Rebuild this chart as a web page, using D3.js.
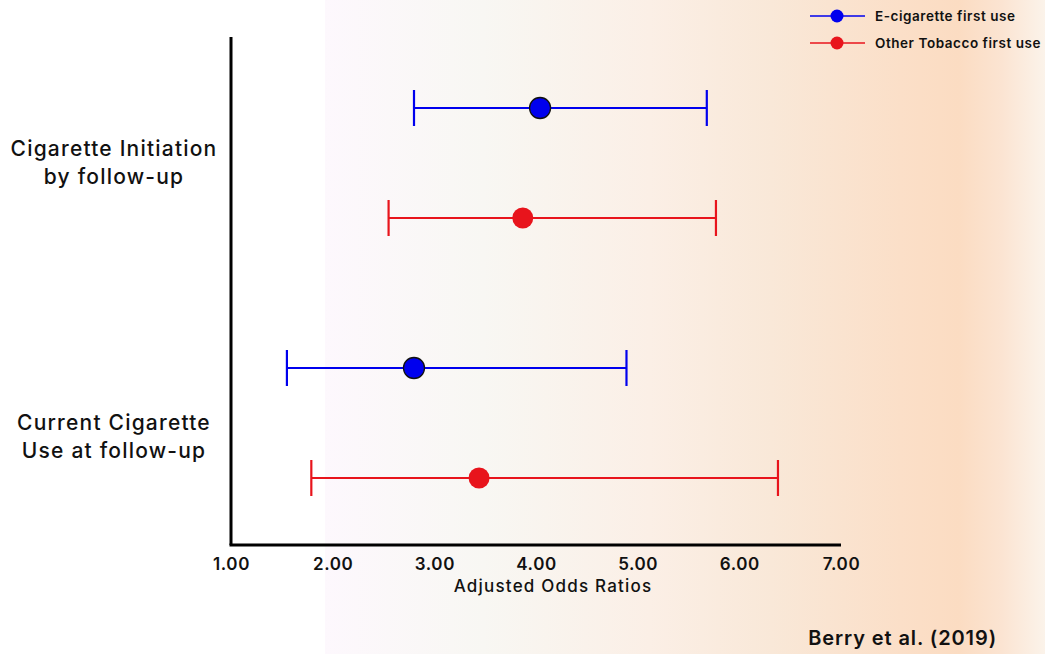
<!DOCTYPE html>
<html><head><meta charset="utf-8">
<script src="https://cdn.jsdelivr.net/npm/d3@7"></script>
<style>body{margin:0;background:#fff;}svg{display:block;font-family:Inter,"Open Sans",sans-serif;}</style>
</head><body>
<svg id="c" width="1045" height="654"></svg>
<script>
const groups = ["Cigarette Initiation|by follow-up", "Current Cigarette|Use at follow-up"];
const series = ["E-cigarette first use", "Other Tobacco first use"];
const colors = ["#0000ee", "#e8141c"];
const estimates = [[4.04, 3.87], [2.80, 3.44]];
const lower = [[2.80, 2.55], [1.55, 1.79]];
const upper = [[5.68, 5.77], [4.89, 6.38]];
const xTicks = [1, 2, 3, 4, 5, 6, 7];
const xTitle = "Adjusted Odds Ratios";
const source = "Berry et al. (2019)";

const svg = d3.select("#c");
const W = 1045, H = 654;
const m = {l: 231, r: 841, t: 37, b: 545};

// background gradient
const defs = svg.append("defs");
const g = defs.append("linearGradient").attr("id","bg").attr("x1","0").attr("x2","1").attr("y1","0").attr("y2","0");
[[0,"#fdf8fd"],[0.22,"#f8f7f3"],[0.45,"#fbefe6"],[0.62,"#f9e8d8"],[0.8,"#fbdfc8"],[0.88,"#fbdcc2"],[0.94,"#fbe4d2"],[1,"#fbf3ea"]]
  .forEach(([o,c]) => g.append("stop").attr("offset", o).attr("stop-color", c));
svg.append("rect").attr("x", 325).attr("y", 0).attr("width", W-325).attr("height", H).attr("fill","url(#bg)");

const x = d3.scaleLinear().domain([1, 7]).range([m.l, m.r]);
const yG = d3.scaleBand().domain(groups).range([33, 553]).paddingInner(0);
const yS = d3.scalePoint().domain(series).range([-55, 55]);

const xAxis = d3.axisBottom(x).tickValues(xTicks).tickFormat(d3.format(".2f")).tickSize(0).tickPadding(13);
const xa = svg.append("g").attr("transform", `translate(0,${m.b})`).call(xAxis);
xa.select(".domain").attr("stroke","#000").attr("stroke-width",3).attr("d", `M${m.l-1.5},0H${m.r}`);
xa.selectAll("text").attr("font-size", 17).attr("font-weight", 600).attr("fill","#111")
  .attr("letter-spacing", 0.6).attr("font-family","Inter,sans-serif");

svg.append("line").attr("x1", m.l).attr("x2", m.l).attr("y1", m.t).attr("y2", m.b)
  .attr("stroke","#000").attr("stroke-width",3);

svg.append("text").attr("x", 553).attr("y", 592).attr("text-anchor","middle")
  .attr("font-size", 17).attr("font-weight", 500).attr("letter-spacing", 1.2).attr("fill","#111").text(xTitle);

svg.append("text").attr("x", 997).attr("y", 645).attr("text-anchor","end")
  .attr("font-size", 20).attr("font-weight", 600).attr("letter-spacing", 0.9).attr("fill","#111").text(source);

// group labels
const lineShift = [-7, 7];
groups.forEach((grp, gi) => {
  const cy = yG(grp) + yG.bandwidth()/2;
  const lines = grp.split("|");
  const t = svg.append("text").attr("text-anchor","middle").attr("font-size", 21).attr("font-weight", 500)
    .attr("letter-spacing", 1.2).attr("fill","#111");
  lines.forEach((ln, li) => {
    t.append("tspan").attr("x", 114).attr("y", cy + lineShift[gi] + li*28).text(ln);
  });
});

// error bars
groups.forEach((grp, gi) => {
  series.forEach((s, si) => {
    const yy = yG(grp) + yG.bandwidth()/2 + yS(s);
    const gg = svg.append("g");
    const c = colors[si];
    gg.append("line").attr("x1", x(lower[gi][si])).attr("x2", x(upper[gi][si])).attr("y1", yy).attr("y2", yy)
      .attr("stroke", c).attr("stroke-width", 2);
    [lower[gi][si], upper[gi][si]].forEach(v => {
      gg.append("line").attr("x1", x(v)).attr("x2", x(v)).attr("y1", yy-18).attr("y2", yy+18)
        .attr("stroke", c).attr("stroke-width", 2.2);
    });
    gg.append("circle").attr("cx", x(estimates[gi][si])).attr("cy", yy).attr("r", 10.5)
      .attr("fill", c).attr("stroke", si === 0 ? "#111" : "none").attr("stroke-width", 1.3);
  });
});

// legend
series.forEach((s, si) => {
  const ly = 16 + si*27;
  const lg = svg.append("g");
  lg.append("line").attr("x1", 810).attr("x2", 865).attr("y1", ly).attr("y2", ly).attr("stroke", colors[si]).attr("stroke-width", 1.5);
  lg.append("circle").attr("cx", 837).attr("cy", ly).attr("r", 6.5).attr("fill", colors[si]);
  lg.append("text").attr("x", 875).attr("y", ly + 4.5).attr("font-size", 13.5).attr("font-weight", 600)
    .attr("letter-spacing", 0.55).attr("fill","#111").text(s);
});
</script>
</body></html>
